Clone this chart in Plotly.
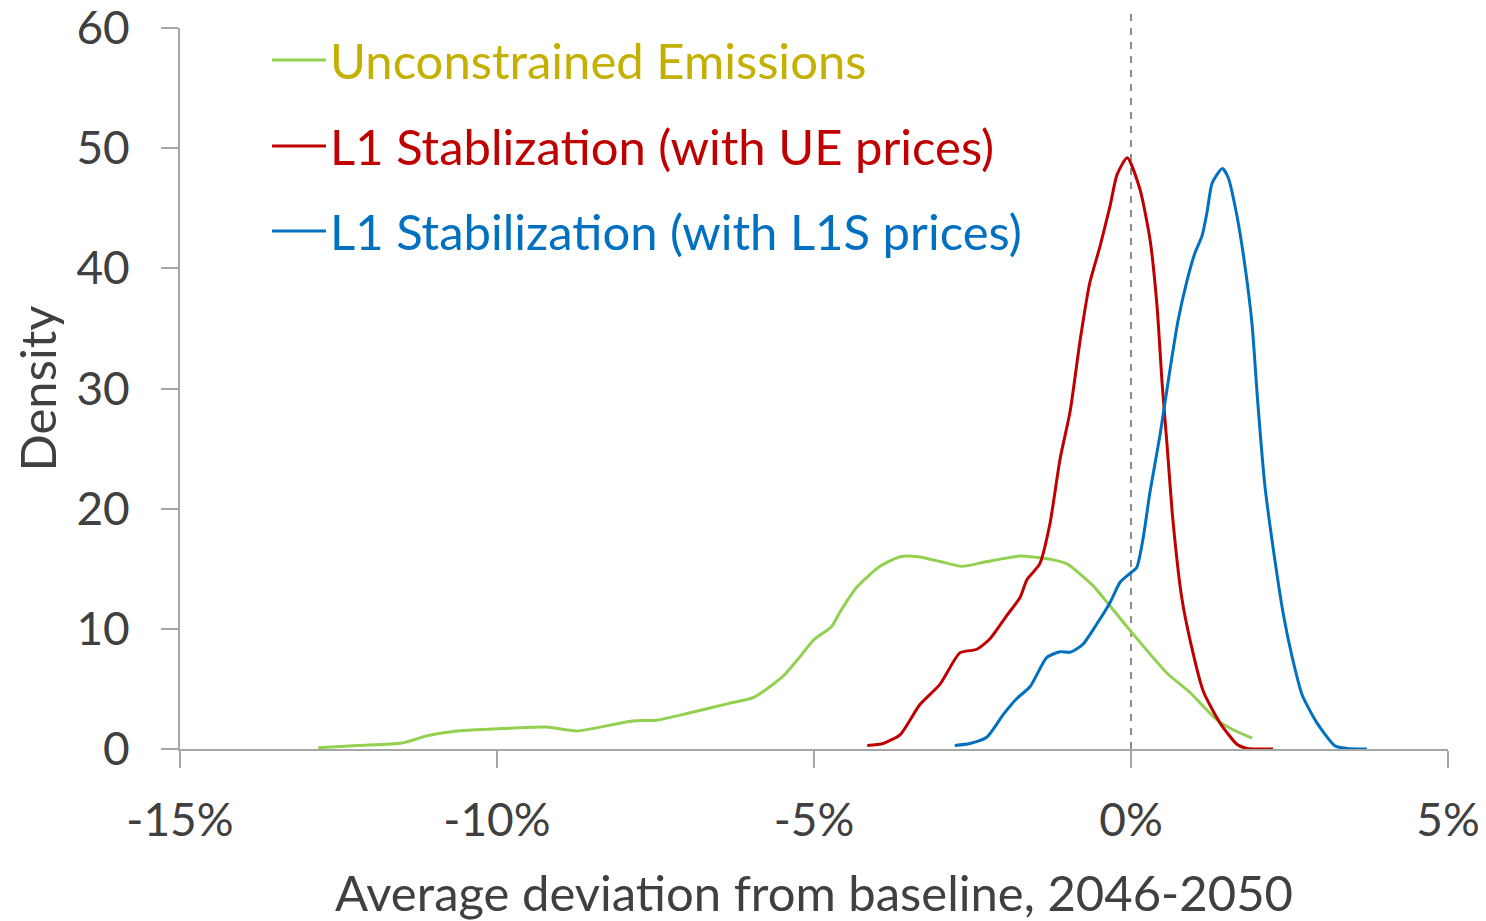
import plotly.graph_objects as go

# ---- data ----
ue_x = [-12.82, -12.2, -11.50, -11.1, -10.63, -10.06, -9.23, -8.74, -7.87, -7.48, -6.97, -6.34,
        -5.95, -5.50, -5.25, -5.00, -4.72, -4.59, -4.32, -3.96, -3.64, -3.36, -3.01, -2.67,
        -2.27, -1.75, -1.28, -1.01, -0.60, -0.33, -0.02, 0.57, 0.93, 1.36, 1.61, 1.91]
ue_y = [0.1, 0.3, 0.5, 1.1, 1.5, 1.66, 1.83, 1.5, 2.33, 2.4, 3.0, 3.8,
        4.3, 6.0, 7.5, 9.1, 10.2, 11.4, 13.5, 15.2, 16.0, 16.0, 15.6, 15.2,
        15.6, 16.06, 15.8, 15.4, 13.6, 11.9, 9.9, 6.3, 4.7, 2.4, 1.6, 0.9]

l1ue_x = [-4.16, -3.91, -3.64, -3.33, -3.01, -2.70, -2.43, -2.22, -1.96, -1.75, -1.64, -1.44,
          -1.28, -1.12, -0.96, -0.80, -0.65, -0.49, -0.33, -0.22, -0.06, 0.14, 0.30, 0.41,
          0.49, 0.57, 0.66, 0.80, 0.93, 1.14, 1.40, 1.67, 1.83, 2.24]
l1ue_y = [0.3, 0.46, 1.2, 3.7, 5.4, 8.0, 8.3, 9.2, 11.1, 12.6, 14.1, 15.4,
          18.7, 24.1, 28.1, 34.1, 38.8, 41.8, 45.2, 47.8, 49.2, 46.6, 42.4, 36.9,
          30.5, 25.2, 19.1, 12.6, 9.1, 4.8, 2.2, 0.4, 0.05, 0.0]

l1s_x = [-2.78, -2.54, -2.27, -2.01, -1.80, -1.59, -1.33, -1.12, -0.96, -0.76, -0.54, -0.33,
         -0.17, -0.02, 0.09, 0.19, 0.30, 0.46, 0.61, 0.74, 0.88, 1.01, 1.12, 1.20,
         1.28, 1.44, 1.53, 1.67, 1.80, 1.91, 2.00, 2.11, 2.24, 2.40, 2.54, 2.70,
         2.93, 3.22, 3.40, 3.72]
l1s_y = [0.3, 0.46, 1.0, 2.9, 4.2, 5.2, 7.6, 8.1, 8.05, 8.7, 10.4, 12.2,
         13.9, 14.6, 15.1, 17.5, 21.4, 26.2, 31.4, 35.6, 38.9, 41.3, 42.7, 44.7,
         47.1, 48.3, 47.6, 44.4, 40.1, 35.3, 28.8, 22.0, 16.8, 11.3, 7.7, 4.5,
         2.2, 0.25, 0.05, 0.0]

series_names = ["Unconstrained Emissions",
                "L1 Stablization (with UE prices)",
                "L1 Stabilization (with L1S prices)"]
line_colors = ["#92D050", "#C00000", "#0070C0"]
text_colors = ["#C4B000", "#C00000", "#0070C0"]

x_ticks = [-15, -10, -5, 0, 5]
x_tick_labels = ["-15%", "-10%", "-5%", "0%", "5%"]
y_ticks = [0, 10, 20, 30, 40, 50, 60]

FONT = "Lato"
AXIS_COLOR = "#A6A6A6"
TEXT_COLOR = "#404040"

fig = go.Figure()
for xs, ys, name, col in zip([ue_x, l1ue_x, l1s_x], [ue_y, l1ue_y, l1s_y],
                             series_names, line_colors):
    fig.add_trace(go.Scatter(x=xs, y=ys, mode="lines", name=name,
                             line=dict(color=col, width=3, shape="spline", smoothing=0.6),
                             showlegend=False, hoverinfo="x+y+name"))

# vertical dashed reference line at 0%
fig.add_shape(type="line", xref="x", yref="paper", x0=0, x1=0, y0=0, y1=1.022,
              line=dict(color="#8C8C8C", width=2, dash="7px,7px"), layer="below")

# legend drawn as lines + coloured text
leg_y = [0.9556, 0.8363, 0.7184]
for yy, name, lc, tc in zip(leg_y, series_names, line_colors, text_colors):
    fig.add_shape(type="line", xref="paper", yref="paper", x0=0.0726, x1=0.1151,
                  y0=yy, y1=yy, line=dict(color=lc, width=3))
    fig.add_annotation(xref="paper", yref="paper", x=0.1167, y=yy, xanchor="left",
                       yanchor="middle", text=name, showarrow=False,
                       font=dict(family=FONT, size=49, color=tc))

fig.update_layout(
    width=1478, height=913,
    margin=dict(l=172, r=38, t=20, b=172),
    paper_bgcolor="white", plot_bgcolor="white",
    font=dict(family=FONT, color=TEXT_COLOR, size=46),
    xaxis=dict(range=[-15, 5], tickvals=x_ticks, ticktext=x_tick_labels, automargin=False,
               showgrid=False, zeroline=False, showline=True, linecolor=AXIS_COLOR,
               linewidth=2, ticks="outside", ticklen=17, tickwidth=2, tickcolor=AXIS_COLOR,
               tickfont=dict(family=FONT, size=46, color=TEXT_COLOR), ticklabelstandoff=13,
               ticklabeloverflow="allow",
               title=dict(text="Average deviation from baseline, 2046-2050",
                          font=dict(family=FONT, size=49, color=TEXT_COLOR), standoff=31)),
    yaxis=dict(range=[0, 60], tickvals=y_ticks, automargin=False,
               showgrid=False, zeroline=False, showline=True, linecolor=AXIS_COLOR,
               linewidth=2, ticks="outside", ticklen=17, tickwidth=2, tickcolor=AXIS_COLOR,
               tickfont=dict(family=FONT, size=46, color=TEXT_COLOR), ticklabelstandoff=22,
               ticklabeloverflow="allow",
               title=dict(text="Density", font=dict(family=FONT, size=49, color=TEXT_COLOR),
                          standoff=15)),
)

fig.write_html("out.html")
